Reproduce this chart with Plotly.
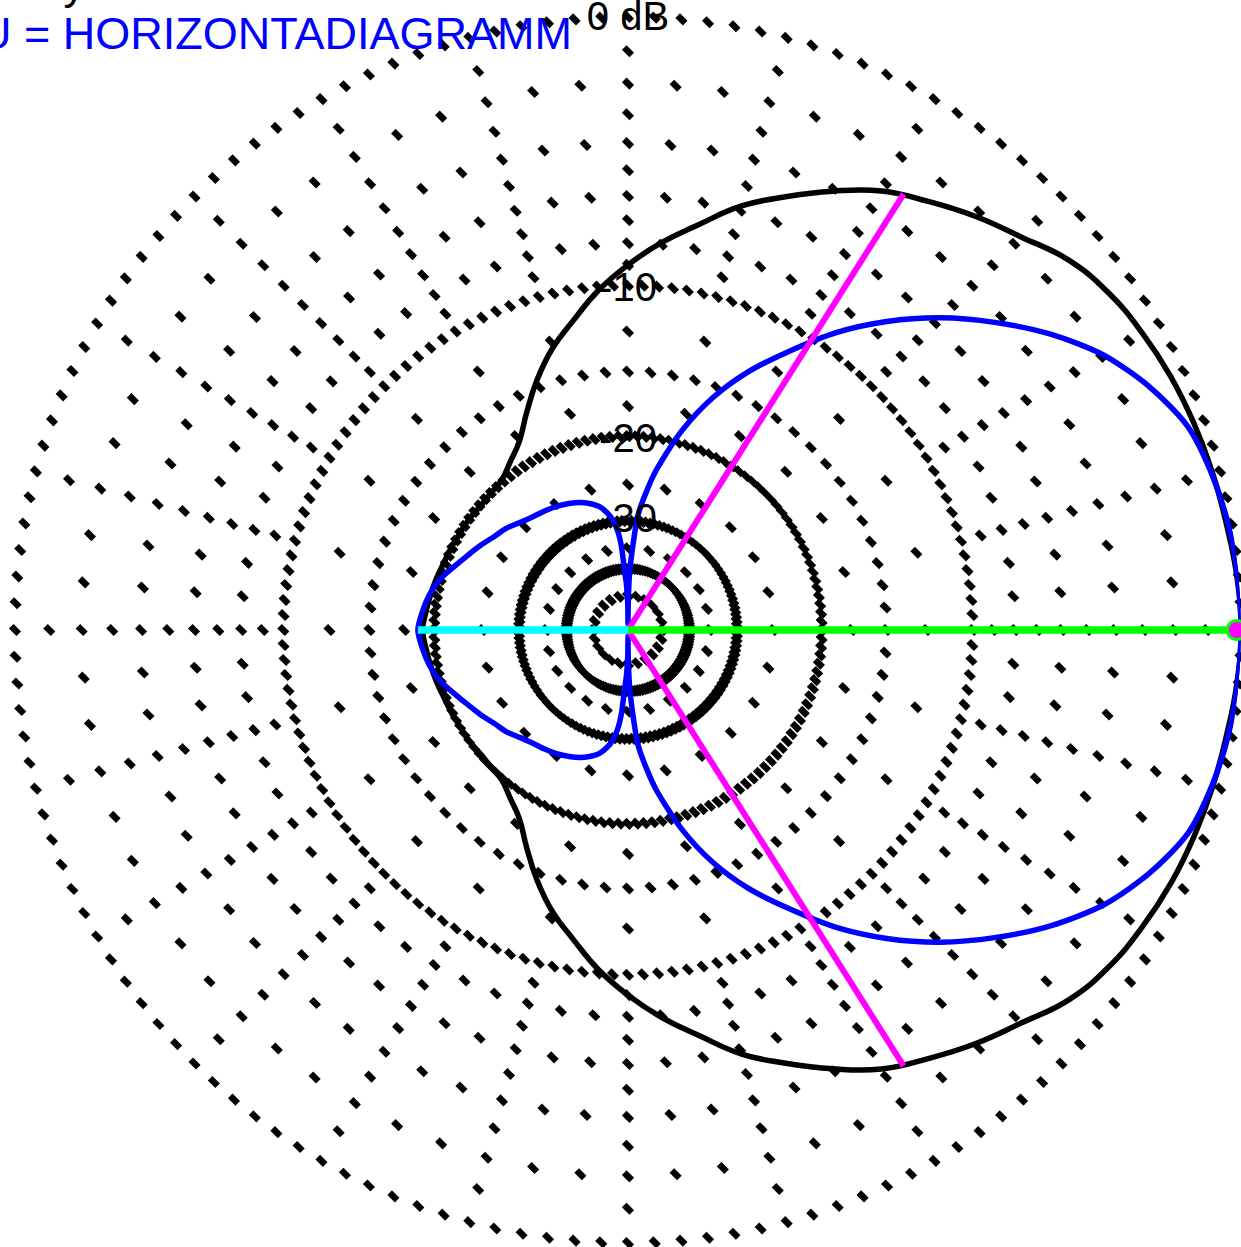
import numpy as np
import plotly.graph_objects as go

# ---------------- data ----------------
# upper half of the patterns (symmetric about 0 deg); angle in degrees, level in dB
black_theta = [0, 5, 10, 15, 20, 25, 30, 35, 40, 45, 50, 55, 60, 65, 70, 75, 80, 85, 90,
               95, 100, 105, 110, 115, 120, 125, 130, 135, 140, 145, 150, 155, 160, 165,
               170, 175, 180]
black_db = [0.0, -0.05, -0.15, -0.22, -0.3, -0.4, -0.55, -0.75, -1.1, -1.7, -2.2, -2.75,
            -3.3, -4.1, -4.95, -5.8, -6.9, -7.9, -9.0, -10.2, -11.6, -12.9, -14.5, -16.3,
            -18.0, -19.0, -19.8, -20.0, -20.1, -20.0, -20.0, -19.9, -19.8, -19.6, -19.4,
            -19.2, -19.0]

blue_theta = [0, 5, 10, 15, 20, 25, 30, 35, 40, 45, 50, 55, 60, 65, 70, 75, 80, 82.5, 85,
              87, 88.5, 89.5, 90, 90.5, 92, 93.5, 94.5, 96, 98, 100, 103, 106, 110, 115,
              120, 125, 130, 135, 140, 145, 150, 155, 160, 165, 170, 175, 180]
blue_db = [0.0, -0.03, -0.1, -0.25, -0.5, -1.1, -1.9, -3.0, -4.3, -5.7, -7.3, -9.1, -11.2,
           -13.3, -15.8, -19.0, -23.1, -25.8, -29.0, -35.5, -42.0, -55.0, -80.0, -55.0,
           -45.0, -40.0, -34.5, -31.5, -29.6, -28.5, -27.4, -26.8, -26.2, -25.7, -25.3,
           -25.0, -24.7, -24.2, -23.5, -23.0, -22.3, -21.6, -20.8, -19.9, -19.3, -18.9,
           -18.6]

beam_half_angle = 57.7      # magenta lines (-3 dB points of the black pattern)
beam_level_db = -3.0
front_db = -0.12            # green line
back_db = -18.6             # cyan line

ring_db = [0, -10, -20, -30, -40]
major_spoke_db = [-1, -2, -3, -4, -5, -6, -7, -8, -9, -12.5, -15, -17.5, -25, -35, -50]
minor_spoke_db = [-2, -4, -6, -8, -15]
label_db = [-10, -20, -30, 0]
label_text = ["-10", "-20", "-30", "0 dB"]
label_drop_px = [6, 6, 1, 3]     # small downward nudge of the labels
legend_black = "Primary"
legend_blue = "U = HORIZONTADIAGRAMM"

R_PX = 613.0


def to_r(db):
    return 10 ** (np.asarray(db, dtype=float) / 40.0)


def mirror(theta, vals):
    th = list(theta) + [360 - t for t in reversed(theta[:-1])]
    v = list(vals) + list(reversed(vals[:-1]))
    return th, v


fig = go.Figure()

# ---------------- dotted grid ----------------
dot = dict(symbol="line-nw", size=7.5, color="black", line=dict(color="black", width=6.5))
g_r, g_t = [], []
ring_angles = np.arange(0, 360, 2.5)
for d in ring_db:
    g_r += [float(to_r(d))] * len(ring_angles)
    g_t += list(ring_angles)
for a in range(0, 360, 5):
    levels = major_spoke_db if a % 15 == 0 else minor_spoke_db
    for d in levels:
        g_r.append(float(to_r(d)))
        g_t.append(a)
fig.add_trace(go.Scatterpolar(r=g_r, theta=g_t, mode="markers", marker=dot,
                              hoverinfo="skip", cliponaxis=False, showlegend=False))

# ---------------- patterns ----------------
bt, bv = mirror(black_theta, black_db)
fig.add_trace(go.Scatterpolar(r=to_r(bv), theta=bt, mode="lines",
                              line=dict(color="black", width=5.5, shape="spline", smoothing=1.3),
                              showlegend=False))
ut, uv = mirror(blue_theta, blue_db)
fig.add_trace(go.Scatterpolar(r=to_r(uv), theta=ut, mode="lines",
                              line=dict(color="#0000ff", width=5.5, shape="spline", smoothing=0.8),
                              showlegend=False))

# ---------------- beam lines ----------------
for s in (1, -1):
    fig.add_trace(go.Scatterpolar(r=[0, float(to_r(beam_level_db))],
                                  theta=[s * beam_half_angle, s * beam_half_angle],
                                  mode="lines", line=dict(color="#ff00ff", width=6),
                                  showlegend=False))
fig.add_trace(go.Scatterpolar(r=[0, float(to_r(front_db))], theta=[0, 0], mode="lines",
                              line=dict(color="#00ff00", width=7.5), showlegend=False))
fig.add_trace(go.Scatterpolar(r=[0, float(to_r(back_db))], theta=[180, 180], mode="lines",
                              line=dict(color="#00ffff", width=7.5), showlegend=False))
fig.add_trace(go.Scatterpolar(r=[float(to_r(front_db))], theta=[0], mode="markers",
                              marker=dict(symbol="circle", size=19, color="#ff00ff",
                                          line=dict(color="#00ff00", width=3)),
                              cliponaxis=False, showlegend=False))

# ---------------- labels ----------------
label_r = [float(to_r(d)) - p / R_PX for d, p in zip(label_db, label_drop_px)]
fig.add_trace(go.Scatterpolar(r=label_r, theta=[90] * len(label_r), mode="text",
                              text=label_text, textposition="middle center",
                              textfont=dict(family="Liberation Sans, Arial", size=40, color="black"),
                              cliponaxis=False, showlegend=False))

W, H = 1241, 1247
cx, cy, rad = 628, 630, R_PX
fig.update_layout(
    width=W, height=H, margin=dict(l=0, r=0, t=0, b=0),
    paper_bgcolor="white", plot_bgcolor="white", showlegend=False,
    polar=dict(
        domain=dict(x=[(cx - rad) / W, (cx + rad) / W],
                    y=[(H - cy - rad) / H, (H - cy + rad) / H]),
        bgcolor="white",
        radialaxis=dict(range=[0, 1], visible=False, showgrid=False),
        angularaxis=dict(rotation=0, direction="counterclockwise", showgrid=False,
                         showticklabels=False, ticks="", showline=False),
    ),
    annotations=[
        dict(text=legend_blue, x=574 / W, y=1 - 6 / H, xref="paper", yref="paper",
             xanchor="right", yanchor="top", showarrow=False,
             font=dict(family="Liberation Sans, Arial", size=45, color="#0000ff")),
        dict(text=legend_black, x=88 / W, y=1 + 43 / H, xref="paper", yref="paper",
             xanchor="right", yanchor="top", showarrow=False,
             font=dict(family="Liberation Sans, Arial", size=44, color="black")),
    ],
)
fig.write_html("out.html", config={"displayModeBar": False},
               post_script="document.body.style.margin='0';")
